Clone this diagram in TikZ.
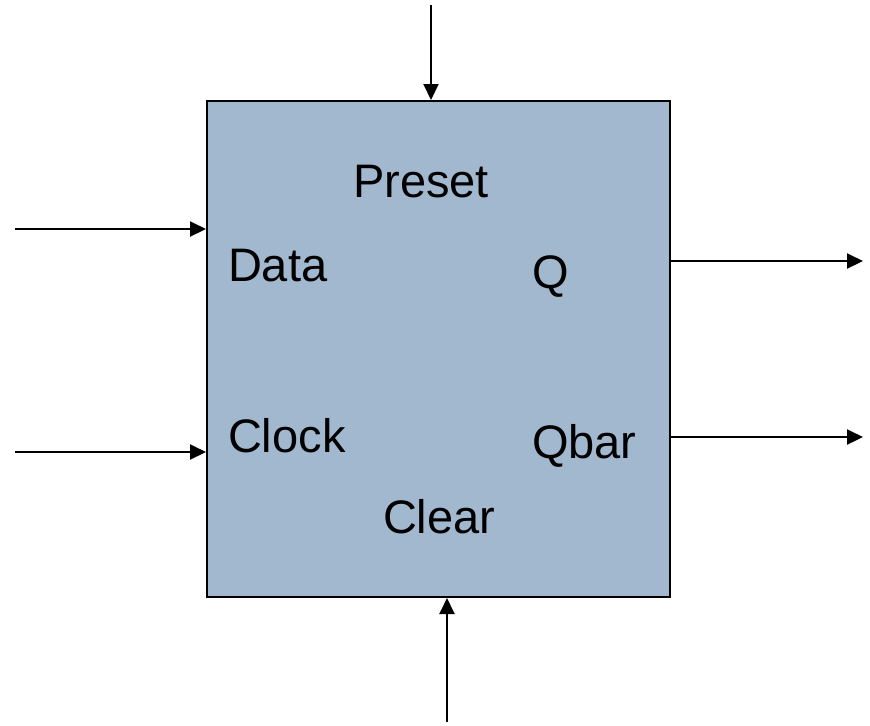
\documentclass[tikz,border=0pt]{standalone}
\usepackage{fontspec}
\setmainfont{Liberation Sans}
\usetikzlibrary{arrows.meta}
\usetikzlibrary{positioning}

\definecolor{boxblue}{RGB}{162,184,207}

\begin{document}
\begin{tikzpicture}[
		x=0.5pt,
		y=-0.5pt,
		>={Triangle[length=8pt,width=7.5pt]},
		line width=1pt,
		block node/.style={
			draw,
			fill=boxblue,
			minimum width=231.5pt,
			minimum height=248pt,
			inner sep=0pt
		},
		pin label/.style={
			anchor=base west,
			inner sep=0pt,
			font=\fontsize{23.5}{28}\selectfont
		}
		]
		
		\useasboundingbox (0,0) rectangle (870,725);
		
		\node[block node] (ff) at (438.5,349) {};
		
		\node[pin label] (preset) at (352,197) {Preset};
		\node[pin label] (data) at (227,281) {Data};
		\node[pin label] (q) at (531,288) {Q};
		\node[pin label] (clock) at (227,452) {Clock};
		\node[pin label] (qbar) at (531,458) {Qbar};
		\node[pin label] (clear) at (382,533) {Clear};
		
		\coordinate (inpre) at (431,5);
		\coordinate (indata) at (15,229);
		\coordinate (inclk) at (15,452);
		\coordinate (inclr) at (447,722);
		\coordinate (outq) at (863,261);
		\coordinate (outqbar) at (863,437);
		
		\draw[->] (inpre) -- (inpre |- ff.north);
		\draw[->] (indata) -- (indata -| ff.west);
		\draw[->] (inclk) -- (inclk -| ff.west);
		\draw[->] (inclr) -- (inclr |- ff.south);
		\draw[->] (outq -| ff.east) -- (outq);
		\draw[->] (outqbar -| ff.east) -- (outqbar);
	\end{tikzpicture}
\end{document}
